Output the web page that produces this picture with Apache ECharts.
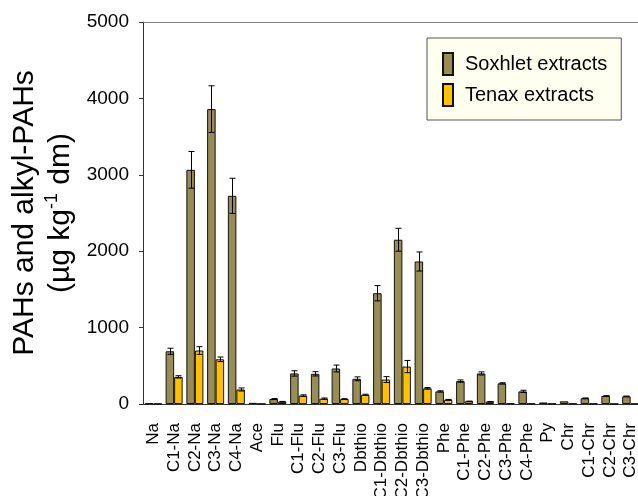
<!DOCTYPE html>
<html>
<head>
<meta charset="utf-8">
<script src="https://cdn.jsdelivr.net/npm/echarts@6/dist/echarts.min.js"></script>
<style>
  html, body { margin: 0; padding: 0; background: #fff; }
  #chart { width: 638px; height: 496px; }
</style>
</head>
<body>
<div id="chart"></div>
<script>
// PAH and alkyl-PAH concentrations, Soxhlet vs Tenax extraction
const categories = ['Na', 'C1-Na', 'C2-Na', 'C3-Na', 'C4-Na', 'Ace', 'Flu', 'C1-Flu', 'C2-Flu', 'C3-Flu',
  'Dbthio', 'C1-Dbthio', 'C2-Dbthio', 'C3-Dbthio', 'Phe', 'C1-Phe', 'C2-Phe', 'C3-Phe', 'C4-Phe',
  'Py', 'Chr', 'C1-Chr', 'C2-Chr', 'C3-Chr'];

const soxhlet = [10, 690, 3065, 3860, 2725, 15, 65, 400, 395, 465, 330, 1450, 2150, 1865,
  165, 300, 400, 270, 165, 20, 35, 75, 105, 100];
const soxhletErr = [0, 40, 240, 305, 230, 0, 6, 35, 28, 45, 25, 100, 150, 125,
  8, 15, 20, 8, 15, 0, 0, 4, 4, 4];

const tenax = [5, 355, 700, 585, 190, 3, 30, 110, 70, 65, 120, 320, 490, 205,
  55, 35, 30, 10, 5, 5, 5, 5, 3, 3];
const tenaxErr = [0, 15, 50, 30, 20, 0, 4, 10, 8, 4, 8, 38, 80, 10,
  5, 3, 3, 0, 0, 0, 0, 0, 0, 0];

const yTicks = { min: 0, max: 5000, interval: 1000 };

const FONT = 'Liberation Sans, Arial, Helvetica, sans-serif';
const BAR_FRACTION = 0.41;

const chart = echarts.init(document.getElementById('chart'), null, { renderer: 'canvas' });

function errorData(vals, errs) {
  return vals.map((v, i) => [i, v, errs[i]]);
}

function errorRenderer(side) {
  return function (params, api) {
    const err = api.value(2);
    if (!err) return null;
    const idx = api.value(0);
    const v = api.value(1);
    const band = api.size([1, 0])[0];
    const barW = band * BAR_FRACTION;
    const top = api.coord([idx, v + err]);
    const bot = api.coord([idx, v - err]);
    const x = Math.round(top[0] + side * barW / 2) + 0.5;
    const cap = 3;
    const style = { stroke: '#000', lineWidth: 1 };
    return {
      type: 'group',
      children: [
        { type: 'line', shape: { x1: x, y1: top[1], x2: x, y2: bot[1] }, style },
        { type: 'line', shape: { x1: x - cap, y1: top[1], x2: x + cap, y2: top[1] }, style },
        { type: 'line', shape: { x1: x - cap, y1: bot[1], x2: x + cap, y2: bot[1] }, style }
      ]
    };
  };
}

const option = {
  animation: false,
  backgroundColor: '#ffffff',
  textStyle: { fontFamily: FONT, color: '#000' },
  grid: { left: 143, top: 22, width: 498, bottom: 92, containLabel: false, outerBoundsMode: 'none' },
  legend: {
    data: ['Soxhlet extracts', 'Tenax extracts'],
    orient: 'vertical',
    left: 427,
    top: 38,
    padding: [14, 14, 13, 15],
    itemWidth: 10,
    itemHeight: 22,
    itemGap: 7,
    icon: 'rect',
    backgroundColor: '#fffff0',
    borderColor: '#555555',
    borderWidth: 1,
    textStyle: { fontFamily: FONT, fontSize: 20, lineHeight: 22, color: '#000', padding: [0, 0, 0, 7] }
  },
  xAxis: [{
    type: 'category',
    data: categories,
    boundaryGap: true,
    axisLine: { lineStyle: { color: '#333', width: 1 } },
    axisTick: { length: 5, lineStyle: { color: '#333' } },
    axisLabel: { rotate: 90, fontSize: 17, fontFamily: FONT, color: '#000', margin: 19, interval: 0 }
  }, {
    type: 'category',
    data: categories,
    position: 'top',
    axisLine: { show: true, lineStyle: { color: '#808080', width: 1 } },
    axisTick: { show: false },
    axisLabel: { show: false }
  }],
  yAxis: {
    type: 'value',
    min: yTicks.min,
    max: yTicks.max,
    interval: yTicks.interval,
    axisLine: { show: true, lineStyle: { color: '#333', width: 1 } },
    axisTick: { show: true, length: 4, lineStyle: { color: '#333' } },
    splitLine: { show: false },
    axisLabel: { fontSize: 19, fontFamily: FONT, color: '#000', margin: 14, formatter: v => String(v) },
    name: '{t|PAHs and alkyl-PAHs}\n{t|(µg kg}{s|-1}{t| dm)}',
    nameLocation: 'middle',
    nameRotate: 90,
    nameGap: 64,
    nameTextStyle: {
      fontFamily: FONT,
      color: '#000',
      rich: {
        t: { fontSize: 30, lineHeight: 36, fontFamily: FONT, color: '#000' },
        s: { fontSize: 18, lineHeight: 22, verticalAlign: 'top', fontFamily: FONT, color: '#000' }
      }
    }
  },
  series: [
    {
      name: 'Soxhlet extracts',
      type: 'bar',
      data: soxhlet,
      barWidth: (BAR_FRACTION * 100) + '%',
      barGap: '0%',
      itemStyle: { color: '#978d55', borderColor: '#111', borderWidth: 1 }
    },
    {
      name: 'Tenax extracts',
      type: 'bar',
      data: tenax,
      barWidth: (BAR_FRACTION * 100) + '%',
      barGap: '0%',
      itemStyle: { color: '#ffc000', borderColor: '#111', borderWidth: 1 }
    },
    {
      name: 'Soxhlet error',
      type: 'custom',
      data: errorData(soxhlet, soxhletErr),
      encode: { x: 0, y: 1 },
      renderItem: errorRenderer(-1),
      z: 5
    },
    {
      name: 'Tenax error',
      type: 'custom',
      data: errorData(tenax, tenaxErr),
      encode: { x: 0, y: 1 },
      renderItem: errorRenderer(1),
      z: 5
    }
  ]
};

chart.setOption(option);
</script>
</body>
</html>
